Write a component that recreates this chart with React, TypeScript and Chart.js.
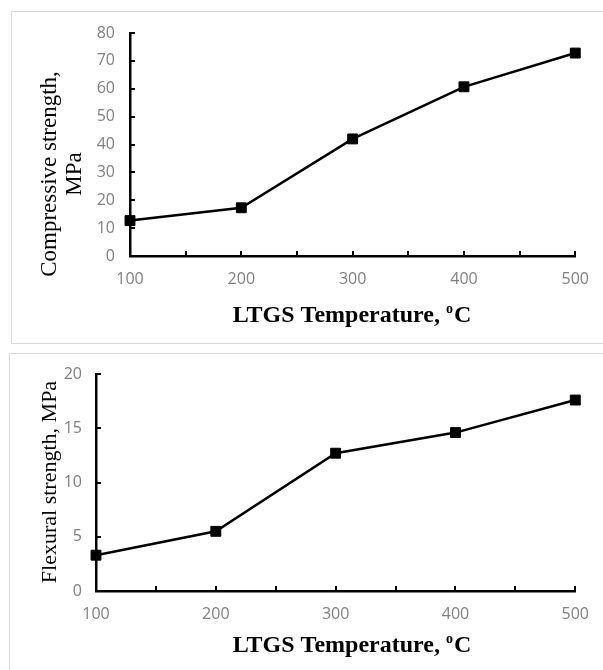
import React, { useEffect, useRef } from "react";
import { Chart, registerables } from "chart.js";

Chart.register(...registerables);

const temperatures = [100, 200, 300, 400, 500];
const compressiveStrength = [12.7, 17.3, 42.0, 60.7, 72.8];
const flexuralStrength = [3.3, 5.5, 12.7, 14.6, 17.6];

const compressiveTitle = ["Compressive strength,", "MPa"];
const flexuralTitle = ["Flexural strength, MPa"];
const xTitleMain = "LTGS Temperature, ";
const xTitleSup = "o";
const xTitleEnd = "C";

const TICK_FONT = { family: "'Open Sans', sans-serif", size: 16 };
const TICK_COLOR = "#808080";
const SERIF = "'Liberation Serif', 'Times New Roman', serif";

const axisDecor = {
  id: "axisDecor",
  afterDraw(chart: any, _args: any, opts: any) {
    const { ctx, chartArea } = chart;
    const x = chart.scales.x;
    const y = chart.scales.y;
    ctx.save();
    ctx.strokeStyle = "#000";
    ctx.lineWidth = 2;
    const tl = 5;
    x.ticks.forEach((t: any) => {
      const px = Math.round(x.getPixelForValue(t.value));
      ctx.beginPath();
      ctx.moveTo(px, chartArea.bottom);
      ctx.lineTo(px, chartArea.bottom - tl);
      ctx.stroke();
    });
    y.ticks.forEach((t: any) => {
      const py = Math.round(y.getPixelForValue(t.value));
      ctx.beginPath();
      ctx.moveTo(chartArea.left, py);
      ctx.lineTo(chartArea.left + tl, py);
      ctx.stroke();
    });

    // y title
    ctx.fillStyle = "#000";
    ctx.font = `${opts.yFontSize}px ${SERIF}`;
    ctx.textAlign = "center";
    ctx.textBaseline = "middle";
    opts.yTitle.forEach((line: string, i: number) => {
      ctx.save();
      ctx.translate(opts.yTitleX[i], opts.yTitleY);
      ctx.rotate(-Math.PI / 2);
      ctx.fillText(line, 0, 0);
      ctx.restore();
    });

    // x title with superscript
    ctx.textAlign = "left";
    ctx.textBaseline = "alphabetic";
    const mainFont = `bold ${opts.xFontSize}px ${SERIF}`;
    const supFont = `bold ${Math.round(opts.xFontSize * 0.6)}px ${SERIF}`;
    ctx.font = mainFont;
    const w1 = ctx.measureText(xTitleMain).width;
    const wC = ctx.measureText(xTitleEnd).width;
    ctx.font = supFont;
    const wo = ctx.measureText(xTitleSup).width;
    const total = w1 + wo + 1 + wC;
    const sx = opts.xTitleX - total / 2;
    ctx.font = mainFont;
    ctx.fillText(xTitleMain, sx, opts.xTitleY);
    ctx.font = supFont;
    ctx.fillText(xTitleSup, sx + w1, opts.xTitleY - opts.xFontSize * 0.38);
    ctx.font = mainFont;
    ctx.fillText(xTitleEnd, sx + w1 + wo + 1, opts.xTitleY);
    ctx.restore();
  },
};

function buildConfig(
  values: number[],
  yMax: number,
  yStep: number,
  yWidth: number,
  xHeight: number,
  padding: any,
  yLabelPad: number,
  decor: any
): any {
  return {
    type: "line",
    data: {
      datasets: [
        {
          data: temperatures.map((t, i) => ({ x: t, y: values[i] })),
          borderColor: "#000",
          borderWidth: 2.5,
          pointStyle: "rect",
          pointRadius: 7,
          pointBackgroundColor: "#000",
          pointBorderColor: "#000",
          pointBorderWidth: 1,
          tension: 0,
          clip: false,
        },
      ],
    },
    options: {
      responsive: false,
      animation: false,
      devicePixelRatio: 1,
      layout: { padding },
      plugins: {
        legend: { display: false },
        tooltip: { enabled: false },
        axisDecor: decor,
      },
      scales: {
        x: {
          type: "linear",
          min: 100,
          max: 500,
          grid: { display: false, drawTicks: false },
          border: { display: true, color: "#000", width: 2.5 },
          ticks: {
            stepSize: 50,
            autoSkip: false,
            maxRotation: 0,
            padding: 14,
            color: TICK_COLOR,
            font: TICK_FONT,
            callback: (v: number) => (v % 100 === 0 ? String(v) : ""),
          },
          afterFit: (s: any) => {
            s.height = xHeight;
          },
        },
        y: {
          type: "linear",
          min: 0,
          max: yMax,
          grid: { display: false, drawTicks: false },
          border: { display: true, color: "#000", width: 2.5 },
          ticks: {
            stepSize: yStep,
            padding: yLabelPad,
            color: TICK_COLOR,
            font: TICK_FONT,
          },
          afterFit: (s: any) => {
            s.width = yWidth;
          },
        },
      },
    },
    plugins: [axisDecor],
  };
}

function ChartCanvas({ config, width, height, style }: any) {
  const ref = useRef<HTMLCanvasElement | null>(null);
  useEffect(() => {
    if (!ref.current) return;
    const chart = new Chart(ref.current, config);
    return () => chart.destroy();
  }, []);
  return <canvas ref={ref} width={width} height={height} style={{ position: "absolute", width, height, ...style }} />;
}

export default function App() {
  const topConfig = buildConfig(
    compressiveStrength,
    80,
    10,
    130,
    94,
    { left: 0, right: 26, top: 33, bottom: 0 },
    15,
    { yTitle: compressiveTitle, yTitleX: [50, 75], yTitleY: 174, yFontSize: 23, xTitleX: 352, xTitleY: 322, xFontSize: 24 }
  );
  const bottomConfig = buildConfig(
    flexuralStrength,
    20,
    5,
    96,
    79,
    { left: 0, right: 24, top: 24, bottom: 0 },
    14,
    { yTitle: flexuralTitle, yTitleX: [50], yTitleY: 132, yFontSize: 22, xTitleX: 352, xTitleY: 302, xFontSize: 24 }
  );
  return (
    <div style={{ position: "absolute", left: 0, top: 0, width: 603, height: 670, overflow: "hidden", background: "#fff" }}>
      <div style={{ position: "absolute", left: 11, top: 11, width: 700, height: 333, border: "1.5px solid #d9d9d9", boxSizing: "border-box" }} />
      <div style={{ position: "absolute", left: 9, top: 353, width: 700, height: 400, border: "1.5px solid #d9d9d9", boxSizing: "border-box" }} />
      <ChartCanvas config={topConfig} width={603} height={350} style={{ left: 0, top: 0 }} />
      <ChartCanvas config={bottomConfig} width={603} height={320} style={{ left: 0, top: 350 }} />
    </div>
  );
}
